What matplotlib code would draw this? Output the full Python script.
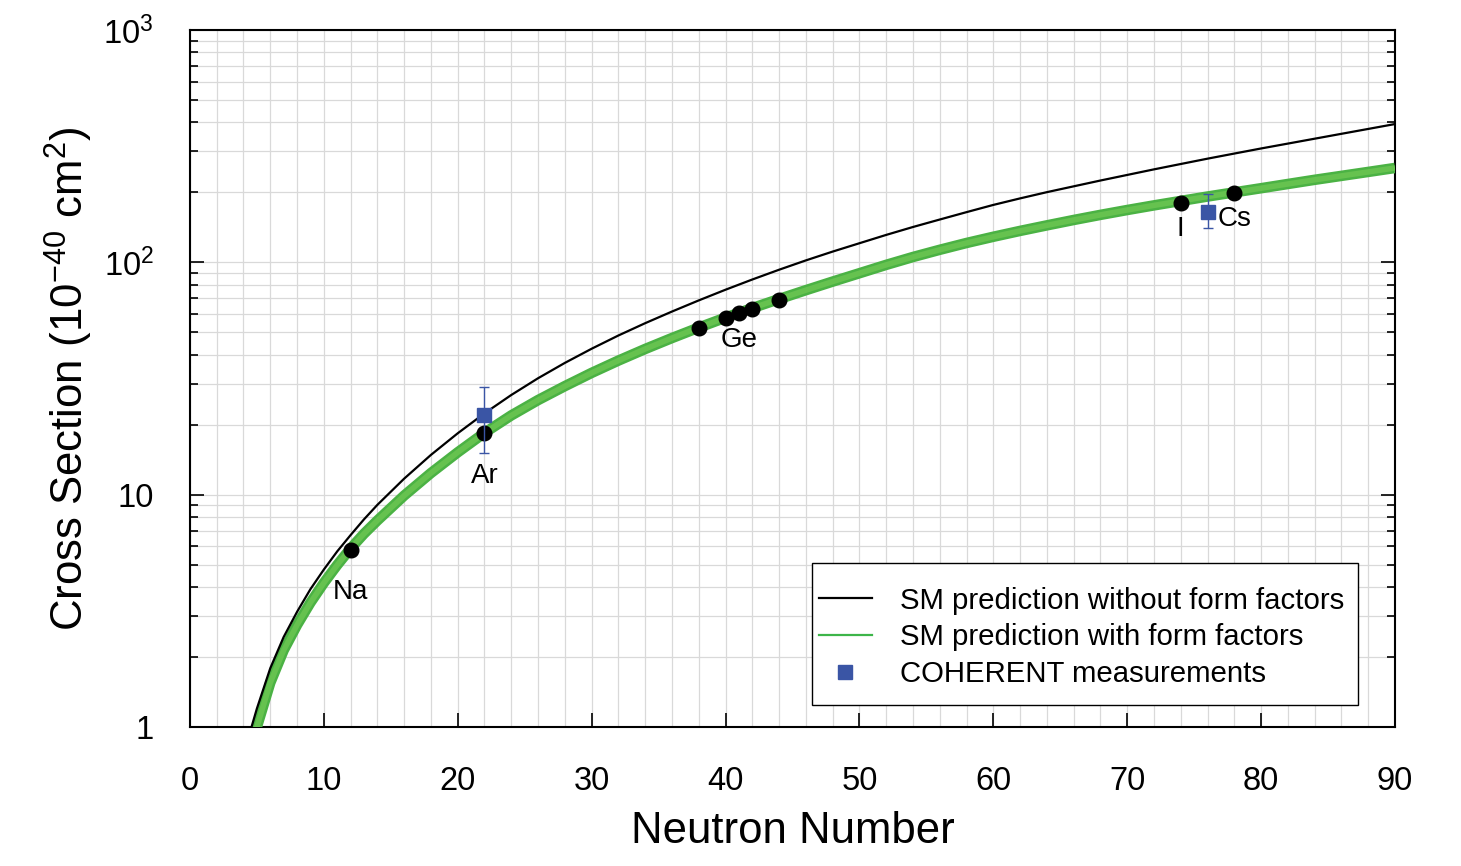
import numpy as np
import matplotlib
matplotlib.use("Agg")
import matplotlib.pyplot as plt
from matplotlib.lines import Line2D
from matplotlib.patches import Rectangle
from matplotlib.ticker import FixedLocator, LogLocator, NullFormatter, FixedFormatter

plt.rcParams['font.family'] = ['Liberation Sans', 'DejaVu Sans']
plt.rcParams['mathtext.fontset'] = 'custom'
plt.rcParams['mathtext.rm'] = 'Liberation Sans'
plt.rcParams['mathtext.it'] = 'Liberation Sans:italic'

# ---- data ----
N_black = [4.2, 4.6, 5, 6, 7, 8, 9, 10, 11, 12, 13, 14, 16, 18, 20, 22, 24, 26, 28, 30,
           32, 34, 36, 38, 40, 42, 44, 46, 48, 50, 52, 54, 56, 58, 60, 62, 64, 66, 68,
           70, 72, 74, 76, 78, 80, 82, 84, 86, 88, 90]
xs_black = [0.79, 1.0, 1.20, 1.79, 2.44, 3.13, 3.92, 4.76, 5.70, 6.70, 7.83, 9.04, 11.72,
            14.83, 18.37, 22.39, 26.85, 31.70, 36.90, 42.46, 48.42, 54.70, 61.38, 68.55,
            76.21, 84.33, 92.90, 101.9, 111.2, 120.8, 131.2, 141.9, 152.8, 164.4, 176.6,
            188.4, 200.4, 212.3, 224.9, 237.7, 251.2, 264.9, 279.3, 293.8, 309.0, 324.3,
            340.4, 357.3, 375.0, 393.6]

N_green = [4.6, 5, 6, 7, 8, 9, 10, 11, 12, 13, 14, 16, 18, 20, 22, 24, 26, 28, 30,
           32, 34, 36, 38, 40, 42, 44, 46, 48, 50, 52, 54, 56, 58, 60, 62, 64, 66, 68,
           70, 72, 74, 76, 78, 80, 82, 84, 86, 88, 90]
xs_green = [0.83, 1.0, 1.55, 2.14, 2.75, 3.43, 4.17, 4.98, 5.87, 6.79, 7.74, 9.91, 12.39,
            15.21, 18.45, 21.93, 25.53, 29.31, 33.42, 37.76, 42.36, 47.21, 52.36, 57.81,
            63.53, 69.50, 75.86, 82.60, 89.74, 97.5, 105.4, 113.2, 121.1, 128.8, 136.5,
            144.2, 152.1, 160.0, 167.9, 175.8, 183.7, 191.9, 200.0, 208.4, 217.3, 226.5,
            235.5, 244.9, 254.7]

iso_N = [12, 22, 38, 40, 41, 42, 44, 74, 78]
iso_xs = [5.8, 18.5, 52.0, 57.5, 60.5, 63.0, 68.5, 180, 198]

meas_N = [22, 76]
meas_xs = [22.0, 165]
meas_lo = [15.1, 140]
meas_hi = [29.2, 196]

labels = ["Na", "Ar", "Ge", "I", "Cs"]
label_N = [12, 22, 41, 74, 78]
label_y = [3.81, 12.0, 46.3, 139, 154]

xticks = [0, 10, 20, 30, 40, 50, 60, 70, 80, 90]
yticks = [1, 10, 100, 1000]
yticklabels = ["1", "10", r"$\mathregular{10^{2}}$", r"$\mathregular{10^{3}}$"]

legend_labels = ['SM prediction without form factors',
                 'SM prediction with form factors',
                 'COHERENT measurements']

# ---- figure ----
fig = plt.figure(figsize=(14.61, 8.66), dpi=100)
ax = fig.add_axes([0.130, 0.1605, 0.8248, 0.8049])

green_dark = '#4bb244'
green_light = '#66c24f'
blue = '#3a55a5'

ax.plot(N_green, xs_green, color=green_dark, lw=7.6, solid_capstyle='butt',
        solid_joinstyle='round', zorder=3)
ax.plot(N_green, xs_green, color=green_light, lw=4.0, solid_capstyle='butt',
        solid_joinstyle='round', zorder=3)
ax.plot(N_black, xs_black, color='black', lw=1.6, solid_joinstyle='round', zorder=4)

ax.plot(iso_N, iso_xs, 'o', color='black', ms=10.5, zorder=6)

yerr = [np.array(meas_xs) - np.array(meas_lo), np.array(meas_hi) - np.array(meas_xs)]
ax.errorbar(meas_N, meas_xs, yerr=yerr, fmt='s', color=blue, ms=10, ecolor=blue,
            elinewidth=1.0, capsize=3.5, capthick=1.0, zorder=7)

for t, x, y in zip(labels, label_N, label_y):
    ax.text(x, y, t, fontsize=20, ha='center', va='center', zorder=8)

ax.set_yscale('log')
ax.set_xlim(0, 90)
ax.set_ylim(1, 1000)

ax.xaxis.set_major_locator(FixedLocator(xticks))
ax.xaxis.set_minor_locator(FixedLocator(np.arange(0, 91, 2)))
ax.yaxis.set_major_locator(FixedLocator(yticks))
ax.yaxis.set_major_formatter(FixedFormatter(yticklabels))
ax.yaxis.set_minor_locator(LogLocator(base=10, subs=np.arange(2, 10), numticks=20))
ax.yaxis.set_minor_formatter(NullFormatter())

ax.grid(True, which='both', color='#d9d9d9', lw=0.9, zorder=0)
ax.set_axisbelow(True)

ax.tick_params(axis='both', which='major', direction='in', length=10, width=1.2,
               labelsize=23.5, top=False, right=True)
ax.tick_params(axis='x', which='major', pad=28)
ax.tick_params(axis='y', which='major', pad=26)
ax.tick_params(axis='y', which='minor', direction='in', length=6, width=1.2,
               left=True, right=True)
ax.tick_params(axis='x', which='minor', length=0, top=False)

for s in ax.spines.values():
    s.set_linewidth(1.5)

ax.set_xlabel('Neutron Number', fontsize=31.5, labelpad=10)
ax.set_ylabel(r'Cross Section ($\mathregular{10^{-40}}$ cm$\mathregular{^{2}}$)',
              fontsize=31.5, labelpad=6)

# legend box
box = Rectangle((0.5162, 0.0316), 0.9693 - 0.5162, 0.2353 - 0.0316,
                transform=ax.transAxes, facecolor='white', edgecolor='black',
                lw=1.0, zorder=9)
ax.add_patch(box)

handles = [Line2D([], [], color='black', lw=1.6),
           Line2D([], [], color='#3db549', lw=1.6),
           Line2D([], [], marker='s', color=blue, ls='none', ms=9.5)]
leg = ax.legend(handles, legend_labels,
                loc='upper left', bbox_to_anchor=(0.522, 0.2015), fontsize=21.2,
                frameon=False, handlelength=1.8, handletextpad=0.95,
                borderpad=0, labelspacing=0.30, borderaxespad=0)
leg.set_zorder(10)

fig.savefig('out.png', dpi=100)
